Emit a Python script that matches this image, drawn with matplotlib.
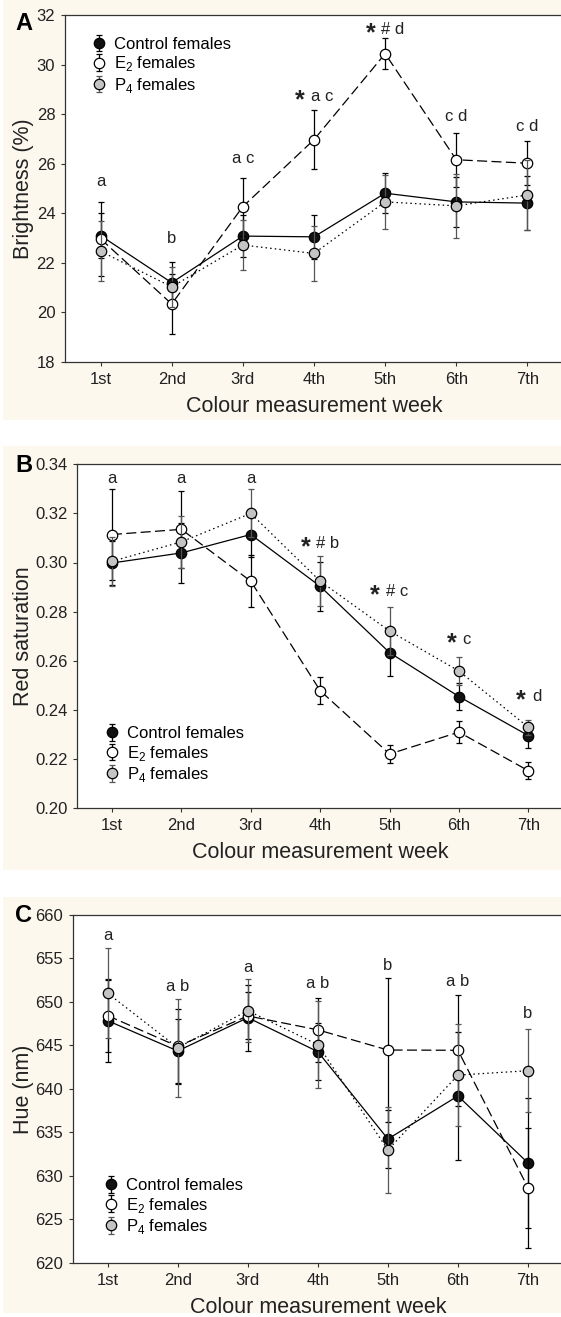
import matplotlib
matplotlib.use('Agg')
import matplotlib.pyplot as plt
from matplotlib.patches import Rectangle
from matplotlib.ticker import FormatStrFormatter
from matplotlib.textpath import TextPath
from matplotlib.font_manager import FontProperties

plt.rcParams['font.family'] = ['Liberation Sans', 'DejaVu Sans']
plt.rcParams['mathtext.fontset'] = 'custom'
plt.rcParams['mathtext.rm'] = 'Liberation Sans'

# Данные
weeks = [1, 2, 3, 4, 5, 6, 7]
week_labels = ['1st', '2nd', '3rd', '4th', '5th', '6th', '7th']
group_names = ['Control females', r'E$_\mathregular{2}$ females', r'P$_\mathregular{4}$ females']

# A - яркость
bright_ctrl = [23.1, 21.2, 23.08, 23.05, 24.81, 24.46, 24.41]
bright_ctrl_se = [0.9, 0.84, 0.85, 0.9, 0.8, 1.0, 1.1]
bright_e2 = [22.97, 20.34, 24.27, 26.97, 30.44, 26.16, 26.02]
bright_e2_se = [1.5, 1.2, 1.17, 1.2, 0.62, 1.08, 0.88]
bright_p4 = [22.47, 21.03, 22.72, 22.38, 24.46, 24.3, 24.74]
bright_p4_se = [1.2, 0.8, 1.0, 1.1, 1.1, 1.3, 1.4]
bright_letters = ['a', 'b', 'a c', '* a c', '* # d', 'c d', 'c d']
bright_letters_y = [25.3, 23.0, 26.2, 28.7, 31.4, 27.9, 27.5]

# B - насыщенность красного
sat_ctrl = [0.2998, 0.3039, 0.3114, 0.2903, 0.2633, 0.2454, 0.2295]
sat_ctrl_se = [0.009, 0.0121, 0.009, 0.010, 0.0097, 0.0054, 0.005]
sat_e2 = [0.3114, 0.3135, 0.2924, 0.2478, 0.2220, 0.2309, 0.2152]
sat_e2_se = [0.0185, 0.0156, 0.0105, 0.0056, 0.0037, 0.0044, 0.0034]
sat_p4 = [0.3005, 0.3084, 0.3200, 0.2924, 0.2721, 0.2558, 0.2329]
sat_p4_se = [0.0100, 0.0105, 0.0098, 0.0103, 0.0098, 0.0057, 0.003]
sat_letters = ['a', 'a', 'a', '* # b', '* # c', '* c', '* d']
sat_letters_y = [0.3343, 0.3343, 0.3343, 0.3078, 0.288, 0.2686, 0.2454]

# C - оттенок
hue_ctrl = [647.85, 644.37, 648.2, 644.29, 634.25, 639.2, 631.5]
hue_ctrl_se = [4.7, 3.7, 3.8, 3.3, 3.35, 7.4, 7.5]
hue_e2 = [648.43, 644.9, 648.4, 646.8, 644.48, 644.45, 628.66]
hue_e2_se = [4.2, 4.3, 2.7, 3.7, 8.24, 6.35, 6.9]
hue_p4 = [651.0, 644.75, 649.0, 645.1, 632.99, 641.6, 642.1]
hue_p4_se = [5.15, 5.65, 3.6, 5.0, 4.9, 5.85, 4.75]
hue_letters = ['a', 'a b', 'a', 'a b', 'b', 'a b', 'b']
hue_letters_y = [657.7, 651.8, 654.0, 652.1, 654.25, 652.4, 648.7]

W, H = 561, 1317
fig = plt.figure(figsize=(W / 100, H / 100), dpi=100, facecolor='white')

cream = '#fcf8ee'
ink = '#222222'
fp = FontProperties(family='Liberation Sans')
fp_bold = FontProperties(family='Liberation Sans', weight='bold')


def px_axes(left, right, top, bottom):
    return fig.add_axes([left / W, 1 - bottom / H, (right - left) / W, (bottom - top) / H])


def cream_box(top, bottom):
    fig.patches.append(Rectangle((3 / W, 1 - bottom / H), 1, (bottom - top) / H,
                                 transform=fig.transFigure, facecolor=cream,
                                 edgecolor='none', zorder=-5))


def text_width(s, size, prop):
    return TextPath((0, 0), s, size=size, prop=prop).get_extents().width


def draw_panel(ax, ctrl, ctrl_se, e2, e2_se, p4, p4_se, letters, letters_y):
    ax.plot(weeks, ctrl, color='k', lw=0.9, zorder=2)
    ax.plot(weeks, e2, color='k', lw=0.9, dashes=(8, 3.5), zorder=2)
    ax.plot(weeks, p4, color='k', lw=0.9, ls=(0, (1.2, 2.5)), zorder=2)
    common = dict(fmt='o', ms=7.5, mec='k', mew=0.9, elinewidth=0.9, capsize=2.5, capthick=0.9)
    h1 = ax.errorbar(weeks, ctrl, yerr=ctrl_se, mfc='#111111', ecolor='k', zorder=3, **common)
    h2 = ax.errorbar(weeks, e2, yerr=e2_se, mfc='white', ecolor='k', zorder=3.1, **common)
    h3 = ax.errorbar(weeks, p4, yerr=p4_se, mfc='#c4c4c4', ecolor='#555555', zorder=3.2, **common)
    for xi, lab, yi in zip(weeks, letters, letters_y):
        if lab.startswith('*'):
            rest = lab[2:]
            sw = text_width('*', 18, fp_bold)
            rw = text_width(rest, 12, fp)
            gap = 3.5
            total = sw + gap + rw
            ax.annotate('*', (xi, yi), xytext=(-total / 2 - 0.8, -2.5), textcoords='offset points',
                        fontsize=18, fontweight='bold', color=ink, ha='left', va='center')
            ax.annotate(rest, (xi, yi), xytext=(-total / 2 + sw + gap, 0), textcoords='offset points',
                        fontsize=12, color=ink, ha='left', va='center')
        else:
            ax.text(xi, yi, lab, fontsize=12, color=ink, ha='center', va='center')
    return [h1, h2, h3]


def style_axes(ax, ylim, yticks, fmt, ylabel, top, bottom, left):
    ax.set_xlim(0.5, 7.5)
    ax.set_ylim(*ylim)
    ax.set_xticks(weeks)
    ax.set_xticklabels(week_labels)
    ax.set_yticks(yticks)
    if fmt:
        ax.yaxis.set_major_formatter(FormatStrFormatter(fmt))
    ax.spines['right'].set_visible(False)
    for s in ['left', 'bottom', 'top']:
        ax.spines[s].set_linewidth(0.9)
        ax.spines[s].set_color('#333333')
    ax.tick_params(direction='out', length=3, width=0.8, color='#333333',
                   labelsize=12, labelcolor=ink, pad=4)
    ax.set_ylabel(ylabel, fontsize=15.5, color=ink)
    ax.set_xlabel('Colour measurement week', fontsize=15.5, color=ink)
    h = bottom - top
    w = 563 - left
    ax.yaxis.set_label_coords((34 - left) / w, 0.5)
    ax.xaxis.set_label_coords(0.5, -34 / h)


def add_legend(ax, handles, x0, y0):
    ax.legend(handles, group_names, loc='upper left', bbox_to_anchor=(x0, y0), frameon=False,
              fontsize=12, handlelength=1.0, handletextpad=0.4, labelspacing=0.15,
              borderpad=0, borderaxespad=0)


# Фоновые плашки панелей
cream_box(0, 420)
cream_box(446, 870)
cream_box(897, 1313)

# Панель A
axA = px_axes(65, 563, 15, 362)
hA = draw_panel(axA, bright_ctrl, bright_ctrl_se, bright_e2, bright_e2_se,
                bright_p4, bright_p4_se, bright_letters, bright_letters_y)
style_axes(axA, (18, 32), range(18, 33, 2), None, 'Brightness (%)', 15, 362, 65)
add_legend(axA, hA, 0.052, 0.937)
fig.text(15 / W, 1 - 23 / H, 'A', fontsize=17, fontweight='bold', va='center', ha='left')

# Панель B
axB = px_axes(77.3, 563, 464.3, 808)
hB = draw_panel(axB, sat_ctrl, sat_ctrl_se, sat_e2, sat_e2_se,
                sat_p4, sat_p4_se, sat_letters, sat_letters_y)
style_axes(axB, (0.20, 0.34), [0.20, 0.22, 0.24, 0.26, 0.28, 0.30, 0.32, 0.34], '%.2f',
           'Red saturation', 464.3, 808, 77.3)
add_legend(axB, hB, 0.054, 0.238)
fig.text(15 / W, 1 - 465 / H, 'B', fontsize=17, fontweight='bold', va='center', ha='left')

# Панель C
axC = px_axes(72.7, 563, 915, 1263)
hC = draw_panel(axC, hue_ctrl, hue_ctrl_se, hue_e2, hue_e2_se,
                hue_p4, hue_p4_se, hue_letters, hue_letters_y)
style_axes(axC, (620, 660), range(620, 661, 5), None, 'Hue (nm)', 915, 1263, 72.7)
add_legend(axC, hC, 0.061, 0.244)
fig.text(15 / W, 1 - 916 / H, 'C', fontsize=17, fontweight='bold', va='center', ha='left')

fig.savefig('out.png', dpi=100, facecolor=fig.get_facecolor())
